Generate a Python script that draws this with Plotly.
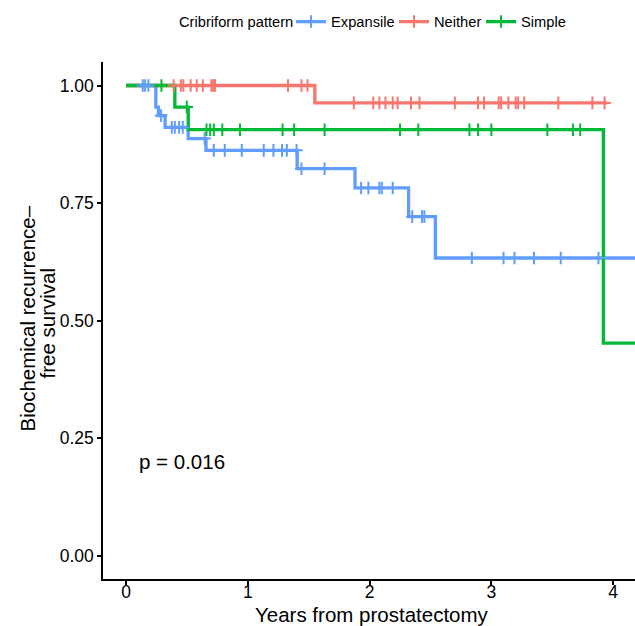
import plotly.graph_objects as go

# ---------------- data ----------------
groups = ["Expansile", "Neither", "Simple"]
colors = {"Expansile": "#619CFF", "Neither": "#F8766D", "Simple": "#00BA38"}

exp_event_t = [0.244, 0.265, 0.32, 0.51, 0.656, 1.405, 1.88, 2.32, 2.54]
exp_surv = [0.954, 0.936, 0.911, 0.887, 0.862, 0.823, 0.782, 0.721, 0.633]
exp_censor = [0.137, 0.156, 0.183, 0.287, 0.375, 0.40, 0.435, 0.465, 0.645,
              0.72, 0.81, 0.95, 1.13, 1.21, 1.28, 1.32, 1.40, 1.44, 1.63,
              1.93, 1.99, 2.08, 2.10, 2.19, 2.35, 2.43, 2.45, 2.84, 3.10,
              3.19, 3.35, 3.57, 3.88]
exp_end = 4.3

nei_event_t = [1.55]
nei_surv = [0.963]
nei_censor = [0.39, 0.45, 0.47, 0.53, 0.58, 0.63, 0.70, 0.715, 0.73, 1.33,
              1.44, 1.49, 1.87, 2.03, 2.08, 2.13, 2.19, 2.23, 2.34, 2.41,
              2.70, 2.89, 2.94, 3.06, 3.08, 3.14, 3.20, 3.22, 3.27, 3.55,
              3.83, 3.93]
nei_end = 3.95

sim_event_t = [0.40, 0.51, 3.92]
sim_surv = [0.954, 0.906, 0.452]
sim_censor = [0.29, 0.498, 0.66, 0.69, 0.72, 0.79, 0.935, 1.285, 1.38, 1.63,
              2.25, 2.40, 2.82, 2.89, 3.00, 3.46, 3.67, 3.73]
sim_end = 4.3

x_ticks = [0, 1, 2, 3, 4]
y_ticks = [0.0, 0.25, 0.5, 0.75, 1.0]
y_tick_labels = ["0.00", "0.25", "0.50", "0.75", "1.00"]
p_text = "p = 0.016"
x_title = "Years from prostatectomy"
y_title_lines = ["Biochemical recurrence–", "free survival"]
legend_title = "Cribriform pattern"

series = {
    "Expansile": (exp_event_t, exp_surv, exp_censor, exp_end),
    "Neither": (nei_event_t, nei_surv, nei_censor, nei_end),
    "Simple": (sim_event_t, sim_surv, sim_censor, sim_end),
}

W, H = 635, 626
ML, MT, MB = 103, 62, 47
PW, PH = W - ML, H - MT - MB
FONT = "Liberation Sans, Arial, sans-serif"
# legend item text start positions (px from left of page)
legend_text_px = {"Expansile": 331, "Neither": 434, "Simple": 521}
legend_ids = {"Expansile": "legend", "Neither": "legend2", "Simple": "legend3"}
legend_y_px = 22


def surv_at(t, ev_t, ev_s):
    s = 1.0
    for et, es in zip(ev_t, ev_s):
        if et <= t:
            s = es
    return s


fig = go.Figure()

# step lines
for g in groups:
    ev_t, ev_s, cen, end = series[g]
    xs = [0.0] + list(ev_t) + [end]
    ys = [1.0] + list(ev_s) + [ev_s[-1]]
    fig.add_trace(go.Scatter(x=xs, y=ys, mode="lines", line_shape="hv",
                             line=dict(color=colors[g], width=3.3),
                             showlegend=False, hoverinfo="skip"))

# censor marks
for g in groups:
    ev_t, ev_s, cen, end = series[g]
    fig.add_trace(go.Scatter(x=cen, y=[surv_at(c, ev_t, ev_s) for c in cen],
                             mode="markers",
                             marker=dict(symbol="cross-thin", size=9,
                                         color=colors[g],
                                         line=dict(color=colors[g], width=2)),
                             showlegend=False))

# legend entries (one legend per entry for precise placement)
for g in groups:
    fig.add_trace(go.Scatter(x=[None], y=[None], mode="lines+markers", name=g,
                             legend=legend_ids[g],
                             line=dict(color=colors[g], width=3.3),
                             marker=dict(symbol="cross-thin", size=9,
                                         color=colors[g],
                                         line=dict(color=colors[g], width=2))))

fig.add_annotation(x=0.088, y=0.2, xref="x", yref="y", text=p_text,
                   showarrow=False, xanchor="left", yanchor="middle",
                   font=dict(family=FONT, size=20.5, color="black"))

# legend title
fig.add_annotation(x=(177 - ML) / PW, y=(H - MB - legend_y_px) / PH,
                   xref="paper", yref="paper",
                   text=legend_title, showarrow=False, xanchor="left",
                   yanchor="middle", font=dict(family=FONT, size=14.7, color="black"))

# axis titles
fig.add_annotation(x=0.5, y=0, xref="paper", yref="paper", text=x_title,
                   showarrow=False, xanchor="center", yanchor="middle",
                   xshift=2.5, yshift=-35.5,
                   font=dict(family=FONT, size=20.5, color="black"))
fig.add_annotation(x=0, y=0.5, xref="paper", yref="paper", text=y_title_lines[0],
                   showarrow=False, xanchor="center", yanchor="middle",
                   textangle=-90, xshift=-76, yshift=2,
                   font=dict(family=FONT, size=20.5, color="black"))
fig.add_annotation(x=0, y=0.5, xref="paper", yref="paper", text=y_title_lines[1],
                   showarrow=False, xanchor="center", yanchor="middle",
                   textangle=-90, xshift=-56, yshift=-3,
                   font=dict(family=FONT, size=20.5, color="black"))

axis_common = dict(showline=True, linecolor="black", linewidth=1.5,
                   ticks="outside", ticklen=4, tickwidth=1.5, tickcolor="black",
                   showgrid=False, zeroline=False, automargin=False,
                   tickfont=dict(family=FONT, size=17.5, color="black"))

leg_common = dict(orientation="h", xref="container", yref="container",
                  y=1 - legend_y_px / H, yanchor="middle", xanchor="left",
                  font=dict(family=FONT, size=14.7, color="black"),
                  bgcolor="rgba(0,0,0,0)")

fig.update_layout(
    width=W, height=H,
    margin=dict(l=ML, r=0, t=MT, b=MB, autoexpand=False),
    plot_bgcolor="white", paper_bgcolor="white",
    font=dict(family=FONT, color="black"),
    xaxis=dict(range=[-0.19, 4.18], tickvals=x_ticks, ticklabelstandoff=-8,
               **axis_common),
    yaxis=dict(range=[-0.05, 1.05], tickvals=y_ticks, ticktext=y_tick_labels,
               ticklabelstandoff=0, **axis_common),
    legend=dict(x=(legend_text_px["Expansile"] - 40) / W, **leg_common),
    legend2=dict(x=(legend_text_px["Neither"] - 40) / W, **leg_common),
    legend3=dict(x=(legend_text_px["Simple"] - 40) / W, **leg_common),
    showlegend=True,
)

fig.write_html(
    "out.html",
    config={"displayModeBar": False},
    post_script="document.body.style.margin='0';document.body.style.padding='0';"
                "document.documentElement.style.overflow='hidden';",
)
